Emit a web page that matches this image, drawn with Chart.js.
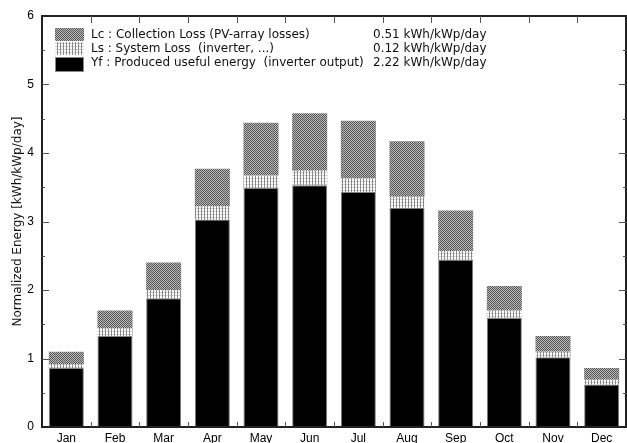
<!DOCTYPE html>
<html>
<head>
<meta charset="utf-8">
<style>
  html, body { margin: 0; padding: 0; background: #fff; }
  #wrap { width: 627px; height: 443px; }
</style>
<script src="https://cdn.jsdelivr.net/npm/chart.js"></script>
</head>
<body>
<div id="wrap"><canvas id="chart" width="627" height="443"></canvas></div>
<script>
// Данные по месяцам (kWh/kWp/day)
const months = ['Jan', 'Feb', 'Mar', 'Apr', 'May', 'Jun', 'Jul', 'Aug', 'Sep', 'Oct', 'Nov', 'Dec'];
const yfValues = [0.86, 1.33, 1.88, 3.03, 3.49, 3.53, 3.43, 3.20, 2.44, 1.59, 1.02, 0.62];
const lsValues = [0.06, 0.11, 0.12, 0.19, 0.18, 0.21, 0.20, 0.16, 0.13, 0.11, 0.08, 0.07];
const lcValues = [0.18, 0.26, 0.40, 0.55, 0.77, 0.84, 0.84, 0.81, 0.59, 0.36, 0.23, 0.17];
const yTicks = [0, 1, 2, 3, 4, 5, 6];

const legendLabels = [
    'Lc : Collection Loss (PV-array losses)',
    'Ls : System Loss  (inverter, ...)',
    'Yf : Produced useful energy  (inverter output)'
];
const legendValues = ['0.51 kWh/kWp/day', '0.12 kWh/kWp/day', '2.22 kWh/kWp/day'];

// Штриховки
function makePattern(size, paint) {
    const c = document.createElement('canvas');
    c.width = size; c.height = size;
    const g = c.getContext('2d');
    paint(g);
    return g.createPattern(c, 'repeat');
}
const ctx0 = document.getElementById('chart').getContext('2d');
const lcPattern = makePattern(2, g => {
    g.fillStyle = '#b8b8b8'; g.fillRect(0, 0, 2, 2);
    g.fillStyle = '#585858'; g.fillRect(0, 0, 1, 1); g.fillRect(1, 1, 1, 1);
});
const lsPattern = makePattern(3, g => {
    g.fillStyle = '#ffffff'; g.fillRect(0, 0, 3, 3);
    g.fillStyle = '#d0d0d0'; g.fillRect(0, 1, 3, 1);
    g.fillStyle = '#8a8a8a'; g.fillRect(0, 0, 1, 3);
});

const FONT = 'Liberation Sans, Arial, sans-serif';
const LEGEND_FONT = 'DejaVu Sans, sans-serif';

// Рамка, внутренние засечки и легенда
const framePlugin = {
    id: 'frame',
    afterDraw(chart) {
        const { ctx, chartArea: a, scales } = chart;
        const x = scales.x, y = scales.y;
        ctx.save();
        ctx.strokeStyle = '#222';
        ctx.lineWidth = 2;
        ctx.strokeRect(a.left, a.top, a.right - a.left, a.bottom - a.top);

        ctx.lineWidth = 1;
        ctx.strokeStyle = '#555';
        ctx.beginPath();
        for (let i = 1; i < months.length; i++) {
            const px = Math.round((x.getPixelForValue(i - 1) + x.getPixelForValue(i)) / 2) + 0.5;
            ctx.moveTo(px, a.top); ctx.lineTo(px, a.top + 7);
            ctx.moveTo(px, a.bottom); ctx.lineTo(px, a.bottom - 5);
        }
        for (let v = 0.5; v < 6; v += 0.5) {
            const py = Math.round(y.getPixelForValue(v)) + 0.5;
            const len = Number.isInteger(v) ? 7 : 3;
            ctx.moveTo(a.left, py); ctx.lineTo(a.left + len, py);
            ctx.moveTo(a.right, py); ctx.lineTo(a.right - len, py);
        }
        ctx.stroke();

        // Легенда
        const fills = [lcPattern, lsPattern, '#000'];
        const boxes = [[28, 13], [42, 13], [57, 15]];
        ctx.font = '12px ' + LEGEND_FONT;
        ctx.textBaseline = 'middle';
        for (let i = 0; i < 3; i++) {
            ctx.fillStyle = fills[i];
            ctx.fillRect(55, boxes[i][0], 29, boxes[i][1]);
            ctx.fillStyle = '#111';
            const ty = [35, 49, 63][i];
            ctx.fillText(legendLabels[i], 91, ty);
            ctx.fillText(legendValues[i], 373, ty);
        }
        ctx.strokeStyle = '#888';
        ctx.strokeRect(55.5, 57.5, 28, 14);
        ctx.restore();
    }
};

new Chart(ctx0, {
    type: 'bar',
    data: {
        labels: months,
        datasets: [
            { label: 'Yf', data: yfValues, backgroundColor: '#000', borderColor: '#808080', borderWidth: 1, borderSkipped: 'bottom' },
            { label: 'Ls', data: lsValues, backgroundColor: lsPattern, borderWidth: 0 },
            { label: 'Lc', data: lcValues, backgroundColor: lcPattern, borderWidth: 0 }
        ]
    },
    options: {
        responsive: false,
        animation: false,
        devicePixelRatio: 1,
        layout: { padding: { top: 16, right: 1, left: 0, bottom: 0 } },
        datasets: { bar: { categoryPercentage: 1, barPercentage: 0.72 } },
        plugins: { legend: { display: false }, tooltip: { enabled: false } },
        scales: {
            x: {
                stacked: true,
                grid: { display: false, drawTicks: false },
                border: { display: false },
                ticks: { color: '#000', font: { family: FONT, size: 12 }, padding: 4 },
                afterFit(s) { s.height = 16; }
            },
            y: {
                stacked: true,
                min: 0,
                max: 6,
                afterBuildTicks(s) { s.ticks = yTicks.map(v => ({ value: v })); },
                grid: { display: false, drawTicks: false },
                border: { display: false },
                ticks: { color: '#000', font: { family: FONT, size: 12 }, padding: 8 },
                title: {
                    display: true,
                    text: 'Normalized Energy [kWh/kWp/day]',
                    color: '#111',
                    font: { family: LEGEND_FONT, size: 12 },
                    padding: { top: 11, bottom: 0 }
                },
                afterFit(s) { s.width = 42; }
            }
        }
    },
    plugins: [framePlugin]
});
</script>
</body>
</html>
